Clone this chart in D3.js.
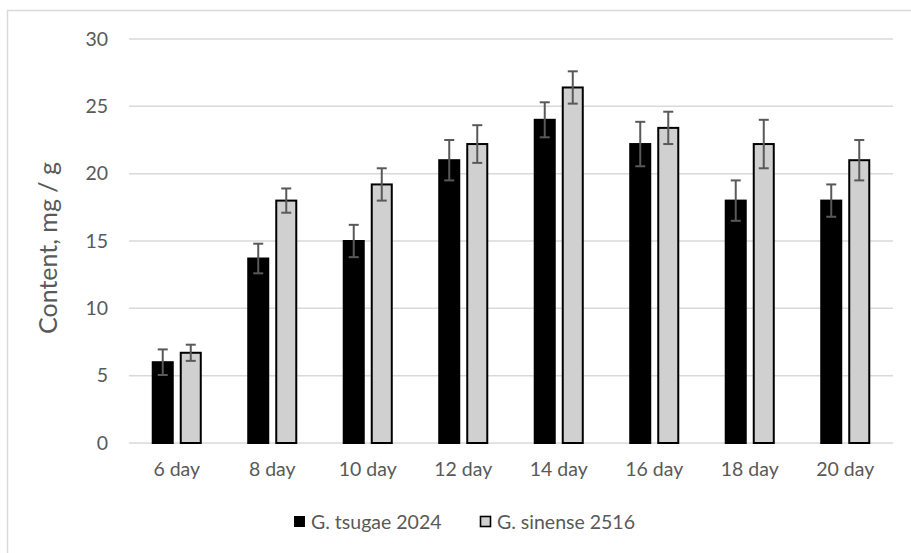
<!DOCTYPE html>
<html>
<head>
<meta charset="utf-8">
<script src="https://cdn.jsdelivr.net/npm/d3@7"></script>
<style>
  html, body { margin: 0; padding: 0; background: #fff; }
  svg { display: block; }
</style>
</head>
<body>
<svg id="chart" width="911" height="553"></svg>
<script>
// Sampling days
const categories = ["6 day", "8 day", "10 day", "12 day", "14 day", "16 day", "18 day", "20 day"];
// Series names
const seriesNames = ["G. tsugae 2024", "G. sinense 2516"];
// Mean content, mg / g
const tsugaeValues = [6.0, 13.7, 15.0, 21.0, 24.0, 22.2, 18.0, 18.0];
const sinenseValues = [6.7, 18.0, 19.2, 22.2, 26.4, 23.4, 22.2, 21.0];
// Error (± deviation)
const tsugaeErrors = [0.95, 1.1, 1.2, 1.5, 1.3, 1.65, 1.5, 1.2];
const sinenseErrors = [0.6, 0.9, 1.2, 1.4, 1.2, 1.2, 1.8, 1.5];
// Y axis ticks
const yTicks = [0, 5, 10, 15, 20, 25, 30];

const series = [
  { name: seriesNames[0], values: tsugaeValues, errors: tsugaeErrors, fill: "#000000" },
  { name: seriesNames[1], values: sinenseValues, errors: sinenseErrors, fill: "#d0d0d0" }
];

const svg = d3.select("#chart");
const font = "Lato, 'Open Sans', sans-serif";
const textColor = "#595959";

// Outer chart frame
svg.append("rect")
  .attr("x", 7.5).attr("y", 10.5)
  .attr("width", 920).attr("height", 560)
  .attr("fill", "none").attr("stroke", "#d9d9d9").attr("stroke-width", 1.5);

const plot = { left: 129, right: 893, top: 39, bottom: 443 };

const y = d3.scaleLinear().domain([0, 30]).range([plot.bottom, plot.top]);
const x0 = d3.scaleBand().domain(categories).range([plot.left, plot.right]).paddingInner(0.476).paddingOuter(0.238);
const x1 = d3.scaleBand().domain(seriesNames).range([0, x0.bandwidth()]).paddingInner(0.214);

// Gridlines
svg.append("g")
  .selectAll("line")
  .data(yTicks)
  .join("line")
  .attr("x1", plot.left).attr("x2", plot.right)
  .attr("y1", d => y(d)).attr("y2", d => y(d))
  .attr("stroke", "#d9d9d9").attr("stroke-width", 1.5);

// Y axis labels
const yAxis = d3.axisLeft(y).tickValues(yTicks).tickSize(0).tickPadding(0);
svg.append("g")
  .attr("transform", `translate(${plot.left - 21},0)`)
  .call(yAxis)
  .call(g => g.select(".domain").remove())
  .call(g => g.selectAll("text")
    .attr("fill", textColor)
    .style("font-family", font)
    .style("font-size", "19.5px"));

// X axis labels
const xAxis = d3.axisBottom(x0).tickSize(0).tickPadding(0);
svg.append("g")
  .attr("transform", `translate(0,${plot.bottom + 19})`)
  .call(xAxis)
  .call(g => g.select(".domain").remove())
  .call(g => g.selectAll("text")
    .attr("fill", textColor)
    .style("font-family", font)
    .style("font-size", "19.5px"));

// Bars
const groups = svg.append("g")
  .selectAll("g")
  .data(categories)
  .join("g")
  .attr("transform", d => `translate(${x0(d)},0)`);

groups.selectAll("rect")
  .data((d, i) => series.map(s => ({ name: s.name, value: s.values[i], fill: s.fill })))
  .join("rect")
  .attr("x", d => x1(d.name) + 1)
  .attr("width", x1.bandwidth() - 2)
  .attr("y", d => y(d.value))
  .attr("height", d => y(0) - y(d.value))
  .attr("fill", d => d.fill)
  .attr("stroke", "#000")
  .attr("stroke-width", 2);

// Error bars
const capHalf = 5;
const errs = groups.selectAll("g.err")
  .data((d, i) => series.map(s => ({ name: s.name, value: s.values[i], err: s.errors[i] })))
  .join("g")
  .attr("class", "err")
  .attr("stroke", "#595959")
  .attr("stroke-width", 2);

errs.append("line")
  .attr("x1", d => x1(d.name) + x1.bandwidth() / 2)
  .attr("x2", d => x1(d.name) + x1.bandwidth() / 2)
  .attr("y1", d => y(d.value + d.err))
  .attr("y2", d => y(d.value - d.err));
errs.append("line")
  .attr("x1", d => x1(d.name) + x1.bandwidth() / 2 - capHalf)
  .attr("x2", d => x1(d.name) + x1.bandwidth() / 2 + capHalf)
  .attr("y1", d => y(d.value + d.err))
  .attr("y2", d => y(d.value + d.err));
errs.append("line")
  .attr("x1", d => x1(d.name) + x1.bandwidth() / 2 - capHalf)
  .attr("x2", d => x1(d.name) + x1.bandwidth() / 2 + capHalf)
  .attr("y1", d => y(d.value - d.err))
  .attr("y2", d => y(d.value - d.err));

// Y axis title
svg.append("text")
  .attr("transform", `translate(${57},${248}) rotate(-90)`)
  .attr("text-anchor", "middle")
  .attr("fill", textColor)
  .style("font-family", font)
  .style("font-size", "25px")
  .text("Content, mg / g");

// Legend
const legendX = [294, 480];
const legend = svg.append("g")
  .selectAll("g")
  .data(series)
  .join("g")
  .attr("transform", (d, i) => `translate(${legendX[i]},${516})`);
legend.append("rect")
  .attr("x", 0.5).attr("y", 0.5)
  .attr("width", 10).attr("height", 10)
  .attr("fill", d => d.fill)
  .attr("stroke", "#000").attr("stroke-width", d => d.fill === "#000000" ? 1 : 1.6);
legend.append("text")
  .attr("x", 17).attr("y", 6)
  .attr("dy", "0.35em")
  .attr("fill", textColor)
  .style("font-family", font)
  .style("font-size", "19.5px")
  .text(d => d.name);
</script>
</body>
</html>
